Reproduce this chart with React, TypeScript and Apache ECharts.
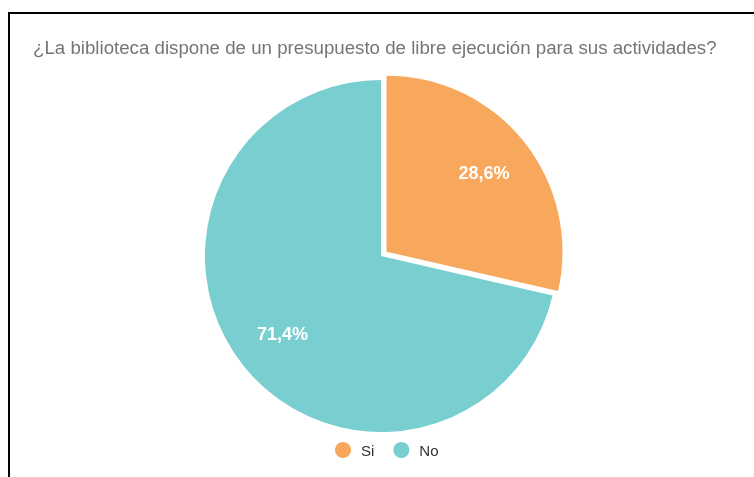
import React, { useEffect, useRef } from "react";
import * as echarts from "echarts";

const categories = ["Si", "No"];
const values = [28.6, 71.4];
const colors = ["#F8A85C", "#79CED0"];
const titleText = "¿La biblioteca dispone de un presupuesto de libre ejecución para sus actividades?";

export default function App() {
  const ref = useRef<HTMLDivElement>(null);
  useEffect(() => {
    if (!ref.current) return;
    const chart = echarts.init(ref.current, null, { renderer: "svg" });
    const data = categories.map((c, i) => ({
      name: c,
      value: values[i],
      selected: i === 0,
      itemStyle: { color: colors[i] },
    }));
    const fmt = (p: any) => p.value.toFixed(1).replace(".", ",") + "%";
    chart.setOption({
      animation: false,
      title: {
        text: titleText,
        left: 28,
        top: 33,
        textStyle: { color: "#757575", fontSize: 18.7, fontWeight: "normal", fontFamily: "Liberation Sans, Arial, sans-serif" },
      },
      legend: {
        data: categories,
        top: 437,
        left: 330,
        icon: "circle",
        itemWidth: 16,
        itemHeight: 16,
        itemGap: 19,
        textStyle: { color: "#333", fontSize: 15, padding: [0, 0, 0, 5], fontFamily: "Liberation Sans, Arial, sans-serif" },
      },
      series: [
        {
          type: "pie",
          center: [381, 256],
          radius: [0, 176],
          startAngle: 90,
          clockwise: true,
          selectedMode: "single",
          selectedOffset: 7,
          label: { show: false },
          labelLine: { show: false },
          emphasis: { disabled: true },
          silent: true,
          data,
        },
        {
          type: "pie",
          center: [381, 256],
          radius: [70, 176],
          startAngle: 90,
          clockwise: true,
          selectedMode: "single",
          selectedOffset: 7,
          silent: true,
          legendHoverLink: false,
          emphasis: { disabled: true },
          itemStyle: { color: "rgba(0,0,0,0)" },
          label: {
            show: true,
            position: "inside",
            formatter: fmt,
            color: "#fff",
            fontSize: 18,
            fontWeight: "bold",
            fontFamily: "Liberation Sans, Arial, sans-serif",
          },
          labelLine: { show: false },
          data: categories.map((c, i) => ({
            name: c,
            value: values[i],
            selected: i === 0,
            itemStyle: { color: "rgba(0,0,0,0)" },
            label: i === 0 ? { padding: [6, 2, 0, 0] } : {},
          })),
        },
      ],
    });
    return () => chart.dispose();
  }, []);
  return (
    <>
      <div
        style={{
          position: "fixed",
          left: 8,
          top: 12,
          width: 900,
          height: 700,
          borderTop: "2px solid #000",
          borderLeft: "2px solid #000",
        }}
      />
      <div ref={ref} style={{ position: "fixed", left: 0, top: 0, width: 754, height: 477 }} />
    </>
  );
}
